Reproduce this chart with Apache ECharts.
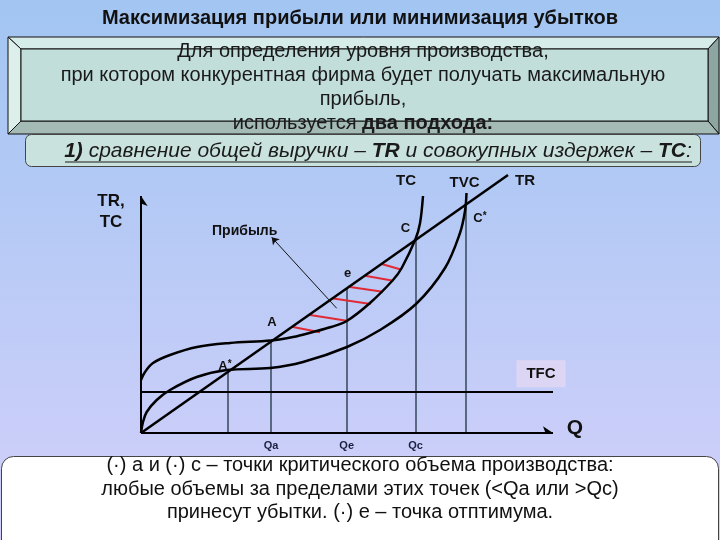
<!DOCTYPE html>
<html><head><meta charset="utf-8">
<script src="https://cdn.jsdelivr.net/npm/echarts@6/dist/echarts.min.js"></script>
<style>html,body{margin:0;padding:0;}#c{width:720px;height:540px;}</style>
</head><body><div id="c"></div>
<script>
// ---------- data (in chart units) ----------
const axisQMax = 412;
const axisCostMax = 237;
const trLine = [[0, 0], [367, 258]];
const tcCurve = [[0,53],[4,61],[12,70],[29,78],[56,86],[89,90],[130,92.5],[152,96],[172,101],[190,106],[205.7,112],[229,130],[252,153],[260.7,165],[274.5,194],[279,209.7],[282,237]];
const tvcCurve = [[0,0],[2,11],[5.7,21],[15.7,33],[29,43],[55.7,56],[85.7,63],[129,65],[162,71],[206,86],[239,103],[275,129],[304,165],[319,200],[324,222],[325.5,240]];
const tfcLevel = 41.3;
const curveNames = ['TC', 'TVC', 'TR'];
const pointNames = ['A*', 'A', 'e', 'C', 'C*'];
const pointQ = [87, 130, 205.7, 274.5, 325];
const pointCost = [62, 92, 145, 194, 226];
const qTickNames = ['Qa', 'Qe', 'Qc'];
const qTickValues = [130, 205.7, 274.5];
const profitHatch = [
  [[150.7,106.3],[179,100.7]],
  [[169,118],[207.3,112]],
  [[190.7,134.7],[229.7,129]],
  [[207.3,146.3],[241.7,141.3]],
  [[224,157.3],[252.3,152.3]],
  [[240.7,169],[259,163.7]]
];
const profitPointer = [[195.7,124.7],[130.7,195.7]];
const titleText = 'Максимизация прибыли или минимизация убытков';
const boxLines = ['Для определения уровня производства,', 'при котором конкурентная фирма будет получать максимальную', 'прибыль,', 'используется {b|два подхода:}'];
const approachText = '{b|1)} сравнение общей выручки – {b|TR} и совокупных издержек – {b|TC}:';
const noteLines = ['(·) а и (·) с – точки критического объема производства:', 'любые объемы за пределами этих точек (<Qa или >Qc)', 'принесут убытки. (·) е – точка отптимума.'];

// ---------- styles ----------
const FONT = 'Liberation Sans, Arial, sans-serif';
const ink = '#111';
const pointLabelOffsets = [[-3,-5],[1,-19],[1,-15],[-10,-11],[14,11]];
const curveLabelOffsets = [[-17,-15],[-2,-10],[17,6]];

const chart = echarts.init(document.getElementById('c'), null, {renderer: 'canvas'});

const curveEnds = [tcCurve[tcCurve.length-1], tvcCurve[tvcCurve.length-1], trLine[trLine.length-1]];

const labelData = [];
pointNames.forEach((n, i) => {
  labelData.push({value: [pointQ[i], pointCost[i]], name: n,
    label: {offset: pointLabelOffsets[i], fontSize: 13,
      formatter: n === 'A*' ? '{a|A}{s|*}' : n === 'C*' ? '{a|C}{s|*}' : n,
      rich: {a: {fontSize: 13, fontWeight: 'bold', color: ink, fontFamily: FONT}, s: {fontSize: 10, fontWeight: 'bold', color: ink, fontFamily: FONT, verticalAlign: 'top', padding:[0,0,4,0]}}}});
});
curveNames.forEach((n, i) => {
  labelData.push({value: curveEnds[i], name: n, label: {offset: curveLabelOffsets[i], fontSize: 15}});
});
qTickNames.forEach((n, i) => {
  labelData.push({value: [qTickValues[i], 0], name: n, label: {offset: [0, 13], fontSize: 11, color: '#1c2040'}});
});
labelData.push({value: profitPointer[1], name: 'Прибыль', label: {offset: [-27, -6], fontSize: 14}});
labelData.push({value: [0, axisCostMax], name: 'TR,\nTC', label: {offset: [-30, 16], fontSize: 17, lineHeight: 21}});
labelData.push({value: [axisQMax, 0], name: 'Q', label: {offset: [22, -5], fontSize: 21}});
labelData.push({value: [axisQMax, tfcLevel], name: 'TFC', label: {offset: [-12, -18], fontSize: 15,
  backgroundColor: '#dcd6f4', padding: [6, 10, 6, 10]}});

const dropLines = pointQ.map((q, i) => ({coords: [[q, 0], [q, pointCost[i]]]}));

const bevelOuter = [8, 37, 719, 134];
const bevelInner = [21, 49, 708, 121];
const [ox1, oy1, ox2, oy2] = bevelOuter;
const [ix1, iy1, ix2, iy2] = bevelInner;

const graphics = [
  {type: 'polygon', shape: {points: [[ox1,oy1],[ox2,oy1],[ix2,iy1],[ix1,iy1]]}, style: {fill: '#d6ece8', stroke: '#111', lineWidth: 1}},
  {type: 'polygon', shape: {points: [[ox1,oy1],[ix1,iy1],[ix1,iy2],[ox1,oy2]]}, style: {fill: '#dcefeb', stroke: '#111', lineWidth: 1}},
  {type: 'polygon', shape: {points: [[ox2,oy1],[ox2,oy2],[ix2,iy2],[ix2,iy1]]}, style: {fill: '#8da6a1', stroke: '#111', lineWidth: 1}},
  {type: 'polygon', shape: {points: [[ox1,oy2],[ix1,iy2],[ix2,iy2],[ox2,oy2]]}, style: {fill: '#a3bab5', stroke: '#111', lineWidth: 1}},
  {type: 'rect', shape: {x: ix1, y: iy1, width: ix2-ix1, height: iy2-iy1}, style: {fill: '#c2dedb', stroke: '#111', lineWidth: 1}},
  {type: 'rect', shape: {x: 25.5, y: 134.5, width: 675, height: 32, r: 6}, style: {fill: '#cae2de', stroke: '#444', lineWidth: 1}},
  {type: 'rect', shape: {x: 1.5, y: 456.5, width: 717, height: 110, r: 12}, style: {fill: '#ffffff', stroke: '#444', lineWidth: 1}},
  {type: 'text', x: 360, y: 18, style: {text: titleText, fontSize: 20, fontWeight: 'bold', fontFamily: FONT, fill: ink, align: 'center', verticalAlign: 'middle'}}
];
const boxY = [51, 75, 99, 123];
boxLines.forEach((t, i) => {
  graphics.push({type: 'text', x: 363, y: boxY[i], z: 10, style: {text: t, fontSize: 20, fontFamily: FONT, fill: '#1a1a1a', align: 'center', verticalAlign: 'middle',
    rich: {b: {fontSize: 20, fontWeight: 'bold', fontFamily: FONT, fill: '#1a1a1a'}}}});
});
graphics.push({type: 'text', x: 378, y: 151, style: {text: approachText, fontSize: 21, fontStyle: 'italic', fontFamily: FONT, fill: '#1a1a1a', align: 'center', verticalAlign: 'middle',
  rich: {b: {fontSize: 21, fontStyle: 'italic', fontWeight: 'bold', fontFamily: FONT, fill: '#1a1a1a'}}}});
graphics.push({type: 'line', shape: {x1: 65, y1: 162, x2: 692, y2: 162}, style: {stroke: '#1a1a1a', lineWidth: 1}});
const noteY = [465, 489, 512];
noteLines.forEach((t, i) => {
  graphics.push({type: 'text', x: 360, y: noteY[i], style: {text: t, fontSize: 20, fontFamily: FONT, fill: '#111', align: 'center', verticalAlign: 'middle'}});
});

const curveStyle = {color: '#000', width: 2.5};

const option = {
  animation: false,
  backgroundColor: {type: 'linear', x: 0, y: 0, x2: 0, y2: 1, colorStops: [{offset: 0, color: '#a2c5f2'}, {offset: 1, color: '#d2d0fa'}]},
  grid: {left: 141, right: 167, top: 170, bottom: 107},
  xAxis: {type: 'value', min: 0, max: 412, show: false},
  yAxis: {type: 'value', min: 0, max: 263, show: false},
  graphic: graphics,
  series: [
    {type: 'lines', coordinateSystem: 'cartesian2d', z: 2, lineStyle: {color: '#34465a', width: 1.5, opacity: 1},
      data: dropLines},
    {type: 'lines', coordinateSystem: 'cartesian2d', z: 3, lineStyle: {color: '#000', width: 2, opacity: 1},
      data: [{coords: [[0, tfcLevel], [axisQMax, tfcLevel]]}]},
    {type: 'lines', coordinateSystem: 'cartesian2d', z: 4, symbol: ['none', 'arrow'], symbolSize: 10, lineStyle: {color: '#000', width: 2, opacity: 1},
      data: [{coords: [[0, 0], [axisQMax, 0]]}, {coords: [[0, 0], [0, axisCostMax]]}]},
    {type: 'lines', coordinateSystem: 'cartesian2d', z: 3, lineStyle: {color: '#e02a35', width: 2, opacity: 1},
      data: profitHatch.map(c => ({coords: c}))},
    {type: 'lines', coordinateSystem: 'cartesian2d', z: 6, symbol: ['none', 'arrow'], symbolSize: 7, lineStyle: {color: '#111', width: 1, opacity: 1},
      data: [{coords: profitPointer}]},
    {name: 'TC', type: 'line', data: tcCurve, smooth: 0.35, showSymbol: false, z: 5, lineStyle: curveStyle},
    {name: 'TVC', type: 'line', data: tvcCurve, smooth: 0.35, showSymbol: false, z: 5, lineStyle: curveStyle},
    {name: 'TR', type: 'line', data: trLine, showSymbol: false, z: 5, lineStyle: curveStyle},
    {type: 'scatter', symbolSize: 0, z: 10, silent: true, data: labelData, itemStyle: {opacity: 1},
      label: {show: true, position: 'inside', formatter: '{b}', fontFamily: FONT, fontWeight: 'bold', color: ink, opacity: 1}}
  ]
};
chart.setOption(option);
</script></body></html>
